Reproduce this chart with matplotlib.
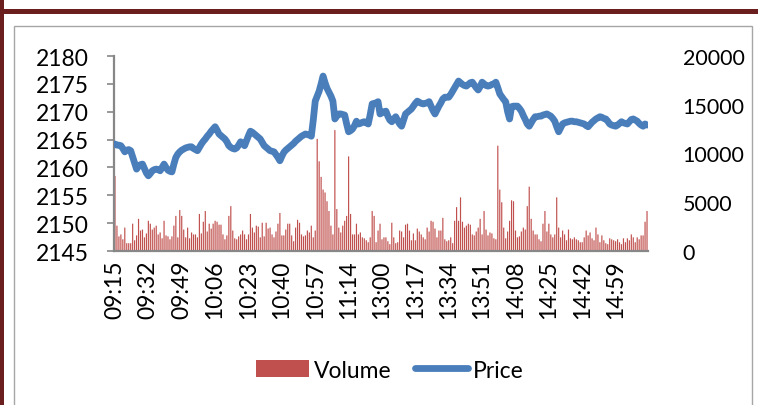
import matplotlib
matplotlib.use("Agg")
import matplotlib.pyplot as plt
from matplotlib.patches import Rectangle
from matplotlib.lines import Line2D
import numpy as np

plt.rcParams['font.family'] = ['Lato', 'DejaVu Sans']

# ---- data -------------------------------------------------------------
morning_times = []
for h, m0, m1 in [(9, 15, 59), (10, 0, 59), (11, 0, 30)]:
    for m in range(m0, m1 + 1):
        morning_times.append(f"{h:02d}:{m:02d}")
afternoon_times = []
for h, m0, m1 in [(13, 0, 59), (14, 0, 59), (15, 0, 15)]:
    for m in range(m0, m1 + 1):
        afternoon_times.append(f"{h:02d}:{m:02d}")
times = morning_times + afternoon_times

price = [
    2164.2, 2164.0, 2164.0, 2163.9, 2163.4, 2162.8, 2163.1, 2163.2, 2163.0, 2161.9,
    2160.8, 2159.7, 2160.2, 2160.5, 2160.6, 2159.8, 2159.0, 2158.5, 2158.9, 2159.4,
    2159.6, 2159.7, 2159.6, 2159.4, 2160.0, 2160.6, 2160.0, 2159.5, 2159.3, 2159.2,
    2160.6, 2161.8, 2162.4, 2162.8, 2163.1, 2163.3, 2163.5, 2163.6, 2163.7, 2163.7,
    2163.4, 2163.2, 2163.0, 2163.6, 2164.2, 2164.7, 2165.1, 2165.6, 2166.0, 2166.5,
    2166.9, 2167.3, 2166.7, 2166.0, 2165.7, 2165.4, 2165.1, 2164.6, 2163.9, 2163.6,
    2163.4, 2163.3, 2163.5, 2164.0, 2164.6, 2164.3, 2163.9, 2164.8, 2165.7, 2166.5,
    2166.3, 2166.0, 2165.7, 2165.4, 2165.1, 2164.5, 2163.9, 2163.6, 2163.3, 2163.0,
    2162.9, 2162.8, 2162.3, 2161.8, 2161.2, 2162.0, 2162.7, 2163.1, 2163.4, 2163.7,
    2164.0, 2164.3, 2164.7, 2165.0, 2165.3, 2165.6, 2165.8, 2166.0, 2165.9, 2165.8,
    2165.6, 2168.5, 2171.9, 2172.8, 2173.7, 2175.0, 2176.4, 2175.2, 2174.2, 2173.5,
    2172.8, 2171.9, 2168.7, 2169.2, 2169.6, 2169.6, 2169.5, 2169.4, 2167.8, 2166.4,
    2166.6, 2166.9, 2167.5, 2168.3, 2167.8, 2167.9, 2168.1, 2168.2, 2168.0, 2167.8,
    2169.5, 2171.4, 2171.5, 2171.6, 2171.8, 2169.6, 2169.8, 2170.0, 2170.1, 2169.2,
    2168.5, 2168.2, 2168.7, 2169.1, 2168.4, 2167.8, 2167.4, 2168.5, 2169.6, 2169.9,
    2170.2, 2170.5, 2171.0, 2171.5, 2171.9, 2171.7, 2171.5, 2171.4, 2171.5, 2171.6,
    2171.8, 2171.0, 2170.2, 2169.6, 2170.3, 2171.0, 2171.6, 2172.3, 2172.6, 2172.6,
    2172.6, 2173.1, 2173.7, 2174.3, 2174.9, 2175.5, 2175.2, 2174.9, 2174.7, 2174.6,
    2174.9, 2175.2, 2175.3, 2174.8, 2174.3, 2173.9, 2174.5, 2175.3, 2175.0, 2174.7,
    2174.6, 2174.7, 2174.9, 2175.0, 2175.3, 2174.3, 2173.2, 2172.7, 2172.2, 2171.8,
    2170.0, 2168.7, 2170.9, 2171.0, 2171.0, 2171.0, 2170.6, 2170.1, 2169.3, 2168.6,
    2167.8, 2167.4, 2168.0, 2168.6, 2169.1, 2169.1, 2169.2, 2169.2, 2169.4, 2169.5,
    2169.6, 2169.4, 2169.2, 2168.8, 2168.3, 2167.3, 2166.4, 2167.1, 2167.8, 2168.0,
    2168.1, 2168.2, 2168.3, 2168.3, 2168.2, 2168.2, 2168.1, 2168.0, 2167.9, 2167.8,
    2167.5, 2167.3, 2167.7, 2168.1, 2168.4, 2168.7, 2168.9, 2169.1, 2169.0, 2168.8,
    2168.7, 2168.3, 2167.8, 2167.6, 2167.5, 2167.4, 2167.6, 2167.9, 2168.2, 2168.0,
    2167.9, 2167.8, 2168.2, 2168.6, 2168.7, 2168.5, 2168.3, 2167.9, 2167.6, 2167.4,
    2167.8, 2167.6,
]

volume = [
    7700, 2600, 1500, 1700, 1200, 2400, 800, 800, 800, 2800,
    1100, 1600, 3300, 2100, 2200, 1400, 1800, 3100, 2800, 2200,
    2400, 2600, 1700, 1900, 1300, 3100, 1600, 1500, 1200, 1500,
    2600, 3600, 1400, 4200, 3600, 2200, 1400, 2400, 1300, 1900,
    1700, 1700, 1400, 3800, 1800, 3000, 4100, 2000, 2800, 2300,
    2800, 3100, 3000, 2700, 2700, 1700, 1200, 1600, 3600, 4600,
    2100, 1300, 1200, 1500, 1700, 2100, 1700, 1200, 1700, 3800,
    2400, 1900, 2600, 2500, 1400, 2900, 1500, 2900, 2300, 2400,
    1700, 1400, 2000, 2800, 3900, 1600, 1600, 2200, 2800, 2800,
    1600, 1000, 2400, 3200, 2900, 1700, 1500, 1600, 2100, 1900,
    2600, 1400, 2100, 11500, 9200, 7600, 6300, 6000, 5100, 4100,
    2600, 1700, 12400, 4300, 2400, 1900, 2600, 3100, 3600, 9700,
    3800, 1700, 1700, 2800, 1700, 1900, 1400, 1300, 1100, 900,
    1400, 4100, 3600, 900, 2100, 2800, 1200, 1400, 1400, 1000,
    700, 2900, 1400, 800, 900, 2100, 2000, 1400, 2700, 2800,
    2100, 1100, 1800, 1100, 2300, 2000, 1700, 1400, 1200, 2400,
    2000, 3100, 3000, 2300, 1400, 2100, 2100, 3400, 1200, 1000,
    1100, 1400, 800, 3100, 4500, 3100, 5500, 3000, 2400, 2600,
    2800, 2700, 1700, 1600, 2000, 2400, 3300, 1700, 4100, 2200,
    1600, 1900, 1800, 1300, 1200, 10800, 6300, 5000, 2400, 1300,
    2000, 3100, 5200, 5100, 2100, 1400, 1500, 2000, 2400, 2200,
    4600, 6600, 3300, 2100, 1700, 1700, 1200, 1000, 2800, 4100,
    2000, 2800, 1700, 1400, 1700, 5500, 2400, 1400, 2100, 1700,
    1100, 2200, 1300, 1200, 1400, 1200, 1100, 900, 900, 1400,
    2100, 1600, 1900, 1300, 1100, 2400, 1700, 900, 1600, 1100,
    800, 700, 1300, 1200, 1100, 1000, 1200, 900, 700, 1300,
    900, 1300, 1100, 1700, 1400, 900, 1400, 1200, 1600, 1600,
    3000, 4100,
]

tick_every = 17
price_ticks = [2145, 2150, 2155, 2160, 2165, 2170, 2175, 2180]
volume_ticks = [0, 5000, 10000, 15000, 20000]

# ---- figure -----------------------------------------------------------
W, H = 758, 406
fig = plt.figure(figsize=(W / 100, H / 100), dpi=100)
fig.patch.set_facecolor('white')

def fx(px):
    return px / W

def fy(py):
    return 1 - py / H

# decorative frame
fig.add_artist(Rectangle((fx(0), fy(406)), fx(4), 1, transform=fig.transFigure,
                         facecolor='#6B1E1E', edgecolor='none', zorder=0))
fig.add_artist(Rectangle((0, fy(15)), 1, 5 / H, transform=fig.transFigure,
                         facecolor='#6B1E1E', edgecolor='none', zorder=0))
fig.add_artist(Rectangle((fx(14), fy(420)), fx(752 - 14), (420 - 27) / H,
                         transform=fig.transFigure, facecolor='none',
                         edgecolor='#A6A6A6', linewidth=1.0, zorder=0))

left, right, top, bottom = 114, 648, 57, 252
ax = fig.add_axes([fx(left), fy(bottom), fx(right - left), (bottom - top) / H])
ax2 = ax.twinx()

x = np.arange(len(times))
n = len(times)

# volume bars on secondary axis (drawn below line)
bars = ax2.bar(x, volume, width=0.6, color='#C0504D', linewidth=0, zorder=1)
for b in bars:
    b.set_snap(False)
ax2.set_ylim(0, 20000)
ax2.set_yticks(volume_ticks)
ax2.set_yticklabels([str(v) for v in volume_ticks])

ax.set_zorder(ax2.get_zorder() + 1)
ax.patch.set_visible(False)
ax.plot(x, price, color='#4A7EBB', linewidth=4.9, solid_capstyle='round',
        solid_joinstyle='round', zorder=3)
ax.set_ylim(2145, 2180)
ax.set_yticks(price_ticks)
ax.set_xlim(-0.5, n - 0.5)

tick_pos = list(range(0, n, tick_every))[:16]
ax.set_xticks(tick_pos)
ax.set_xticklabels([times[i] for i in tick_pos], rotation=90)

fs = 16.5
for a in (ax, ax2):
    for s in a.spines.values():
        s.set_visible(False)
ax.spines['left'].set_visible(True)
ax.spines['bottom'].set_visible(True)
ax.spines['left'].set_color('#878787')
ax.spines['bottom'].set_color('#878787')
ax.spines['left'].set_linewidth(1.6)
ax.spines['bottom'].set_linewidth(1.6)

ax.tick_params(axis='y', length=5, width=1.2, color='#878787', pad=13,
               labelsize=fs, labelcolor='black')
ax.tick_params(axis='x', length=0, pad=6, labelsize=fs, labelcolor='black')
ax2.tick_params(axis='y', length=0, pad=25, labelsize=15.5, labelcolor='black')
for lbl in ax2.get_yticklabels():
    lbl.set_horizontalalignment('left')

# legend
handles = [Rectangle((0, 0), 1, 1, facecolor='#C0504D', edgecolor='none'),
           Line2D([0], [0], color='#4A7EBB', linewidth=4.9, solid_capstyle='round')]
fig.legend(handles, ['Volume', 'Price'], loc='center', ncol=2,
           bbox_to_anchor=(fx(390), fy(371)), frameon=False, fontsize=fs,
           handlelength=2.3, handleheight=0.7, handletextpad=0.25,
           columnspacing=1.0)

fig.savefig('out.png', dpi=100, facecolor='white')
